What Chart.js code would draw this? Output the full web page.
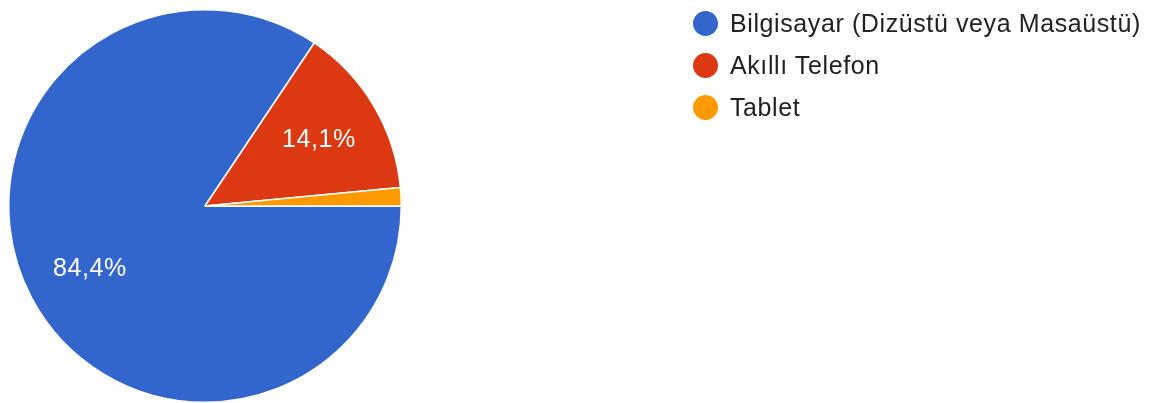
<!DOCTYPE html>
<html>
<head>
<meta charset="utf-8">
<script src="https://cdn.jsdelivr.net/npm/chart.js@4"></script>
<style>
  html, body { margin:0; padding:0; background:#fff; }
  #wrap { position:relative; width:1160px; height:403px; }
  #legend { position:absolute; left:693px; top:2px; font-family:"Liberation Sans", Arial, sans-serif; font-size:25px; letter-spacing:0.6px; color:#222; }
  .row { display:flex; align-items:center; height:42px; }
  .dot { width:25px; height:25px; border-radius:50%; margin-right:12px; flex:none; }
</style>
</head>
<body>
<div id="wrap">
  <canvas id="c" width="1160" height="403"></canvas>
  <div id="legend"></div>
</div>
<script>
const categories = ["Bilgisayar (Dizüstü veya Masaüstü)", "Akıllı Telefon", "Tablet"];
const values = [84.4, 14.1, 1.5];
const colors = ["#3366cc", "#dc3912", "#ff9900"];
const labelTexts = ["84,4%", "14,1%", ""];

const legend = document.getElementById('legend');
categories.forEach((c, i) => {
  const r = document.createElement('div'); r.className = 'row';
  const d = document.createElement('div'); d.className = 'dot'; d.style.background = colors[i];
  const t = document.createElement('span'); t.textContent = c;
  r.appendChild(d); r.appendChild(t); legend.appendChild(r);
});

const sliceLabels = {
  id: 'sliceLabels',
  afterDatasetsDraw(chart) {
    const ctx = chart.ctx;
    const meta = chart.getDatasetMeta(0);
    ctx.save();
    ctx.fillStyle = '#fff';
    ctx.font = '25px "Liberation Sans", Arial, sans-serif';
    try { ctx.letterSpacing = '0.6px'; } catch (e) {}
    ctx.textAlign = 'center';
    ctx.textBaseline = 'middle';
    meta.data.forEach((arc, i) => {
      const txt = labelTexts[i];
      if (!txt) return;
      const mid = (arc.startAngle + arc.endAngle) / 2;
      const r = arc.outerRadius * 0.67;
      ctx.fillText(txt, arc.x + Math.cos(mid) * r + 1, arc.y + Math.sin(mid) * r + 1);
    });
    ctx.restore();
  }
};

new Chart(document.getElementById('c'), {
  type: 'pie',
  data: {
    labels: categories,
    datasets: [{ data: values, backgroundColor: colors, borderColor: '#fff', borderWidth: 1.5 }]
  },
  options: {
    responsive: false,
    animation: false,
    rotation: 90,
    layout: { padding: { left: 8, top: 9, right: 758, bottom: 0 } },
    plugins: { legend: { display: false }, tooltip: { enabled: false } }
  },
  plugins: [sliceLabels]
});
</script>
</body>
</html>
